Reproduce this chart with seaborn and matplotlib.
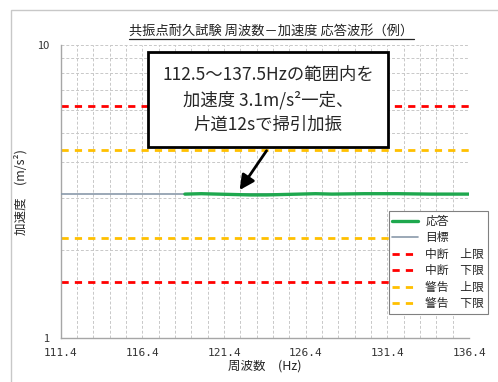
import numpy as np
import pandas as pd
import seaborn as sns
from matplotlib import pyplot as plt
from matplotlib.lines import Line2D
from matplotlib.patches import Rectangle
from matplotlib.ticker import FixedLocator, NullFormatter

# chart data
x_range = [111.4, 136.4]
x_ticks = [111.4, 116.4, 121.4, 126.4, 131.4, 136.4]
target_acc = 3.1
abort_upper = 6.2
abort_lower = 1.55
warn_upper = 4.38
warn_lower = 2.19
resp_freq = [119.0, 120.0, 121.0, 122.0, 123.0, 124.0, 125.0, 126.0, 127.0, 128.0, 130.0, 132.0, 134.0, 136.4]
resp_acc = [3.10, 3.11, 3.10, 3.09, 3.08, 3.08, 3.09, 3.10, 3.11, 3.10, 3.11, 3.11, 3.10, 3.10]

sns.set_style("white")
plt.rcParams['font.family'] = ['Noto Sans CJK JP', 'DejaVu Sans']

fig = plt.figure(figsize=(4.98, 3.82), dpi=100)
ax = fig.add_axes([0.122, 0.115, 0.820, 0.767])

# outer chart frame
fig.add_artist(Rectangle((11 / 498, -0.1), 1.2, 1.0 - 10 / 382 + 0.1,
                         transform=fig.transFigure, fill=False,
                         edgecolor="#c8c8c8", lw=1.0))

resp = pd.DataFrame({"freq": resp_freq, "acc": resp_acc})
def flat(v):
    return pd.DataFrame({"freq": x_range, "acc": [v, v]})

sns.lineplot(data=resp, x="freq", y="acc", ax=ax, color="#1ea84e", lw=2.4, label="応答", zorder=5)
sns.lineplot(data=flat(target_acc), x="freq", y="acc", ax=ax, color="#8a99aa", lw=1.2, label="目標", zorder=4)
sns.lineplot(data=flat(abort_upper), x="freq", y="acc", ax=ax, color="#ff0000", lw=2, label="中断　上限")
sns.lineplot(data=flat(abort_lower), x="freq", y="acc", ax=ax, color="#ff0000", lw=2, label="中断　下限")
sns.lineplot(data=flat(warn_upper), x="freq", y="acc", ax=ax, color="#ffc000", lw=2, label="警告　上限")
sns.lineplot(data=flat(warn_lower), x="freq", y="acc", ax=ax, color="#ffc000", lw=2, label="警告　下限")
for ln in ax.lines[2:]:
    ln.set_dashes((2.6, 2.2))

ax.set_yscale("log")
ax.set_ylim(1, 10)
ax.set_xlim(*x_range)
ax.set_yticks([1, 10])
ax.set_yticklabels(["1", "10"])
ax.yaxis.set_minor_locator(FixedLocator([2, 3, 4, 5, 6, 7, 8, 9]))
ax.yaxis.set_minor_formatter(NullFormatter())
ax.set_xticks(x_ticks)
ax.set_xticklabels([f"{v:.1f}" for v in x_ticks], family="DejaVu Sans Mono")
ax.xaxis.set_minor_locator(FixedLocator(np.arange(112.4, 136.5, 1.0)))
ax.tick_params(which="both", length=0, labelsize=8, colors="#333333")
ax.tick_params(axis="x", pad=7)
ax.tick_params(axis="y", pad=8)
ax.grid(True, which="both", color="#c8c8c8", ls=(0, (3, 2)), lw=0.7)
for s in ["top", "right"]:
    ax.spines[s].set_visible(False)
for s in ["left", "bottom"]:
    ax.spines[s].set_color("#a6a6a6")
    ax.spines[s].set_linewidth(1.0)

ax.set_xlabel("周波数　(Hz)", fontsize=9, labelpad=1)
ax.set_ylabel("加速度　(m/s²)", fontsize=9, labelpad=7)

leg = ax.legend(loc="lower right", bbox_to_anchor=(1.06, 0.062), fontsize=8.5,
                frameon=True, fancybox=False, framealpha=1, edgecolor="#808080",
                handlelength=2.2, borderpad=0.3, labelspacing=0.3, handletextpad=0.6)
leg.get_frame().set_linewidth(0.8)

ax.text(124.1, 6.5, "112.5～137.5Hzの範囲内を\n加速度 3.1m/s²一定、\n片道12sで掃引加振",
        ha="center", va="center", fontsize=12.5, linespacing=1.45, zorder=10,
        bbox=dict(boxstyle="square,pad=0.8", fc="white", ec="black", lw=2))
ax.annotate("", xy=(122.35, 3.2), xytext=(124.0, 4.36), textcoords="data", zorder=9,
            arrowprops=dict(arrowstyle="-|>", mutation_scale=22, lw=2, color="black",
                            shrinkA=0, shrinkB=0))

title = fig.text(0.545, 1 - 31 / 382, "共振点耐久試験 周波数－加速度 応答波形（例）",
                 ha="center", va="center", fontsize=9.5, color="#222222")
fig.canvas.draw()
bb = title.get_window_extent()
fig.add_artist(Line2D([bb.x0 / 498, bb.x1 / 498], [(bb.y0 - 1) / 382] * 2,
                      transform=fig.transFigure, color="#222222", lw=0.9))

fig.savefig("out.png", dpi=100)
